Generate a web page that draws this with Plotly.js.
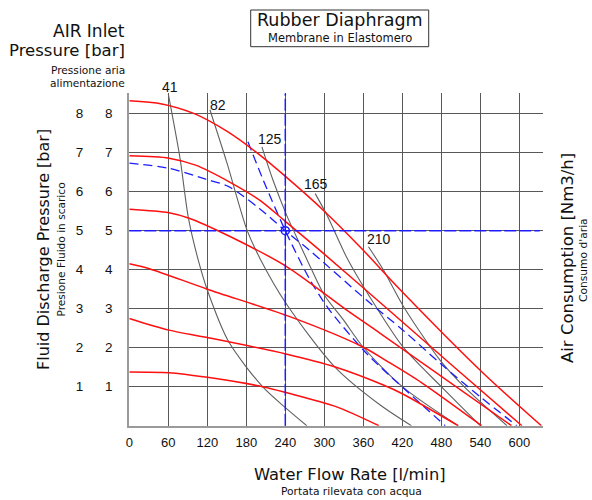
<!DOCTYPE html>
<html>
<head>
<meta charset="utf-8">
<script src="https://cdn.plot.ly/plotly-3.0.1.min.js"></script>
<style>html,body{margin:0;padding:0;background:#fff}#chart{width:592px;height:500px}</style>
</head>
<body>
<div id="chart"></div>
<script>
// ---- tick labels ----
const flowTicks = [0, 60, 120, 180, 240, 300, 360, 420, 480, 540, 600];
const fluidPressureTicks = [1, 2, 3, 4, 5, 6, 7, 8];
const airInletTicks = [1, 2, 3, 4, 5, 6, 7, 8];

// ---- performance curves (flow l/min, discharge pressure bar) ----
const perf8Flow = [0, 50, 100, 150, 200, 250, 300, 357, 416, 545, 634];
const perf8Pres = [8.33, 8.25, 8.0, 7.55, 6.95, 6.25, 5.5, 4.55, 3.5, 1.34, 0];
const perf7Flow = [0, 61, 102, 153, 200, 240, 300, 396, 500, 604];
const perf7Pres = [6.92, 6.86, 6.68, 6.26, 5.79, 5.24, 4.4, 3.01, 1.5, 0];
const perf55Flow = [0, 61, 92, 155, 242, 334, 386, 588];
const perf55Pres = [5.55, 5.46, 5.32, 4.85, 4.08, 2.97, 2.37, 0];
const perf4Flow = [0, 32, 120, 248, 358, 400, 450, 542];
const perf4Pres = [4.15, 4.02, 3.5, 2.79, 2.03, 1.62, 1.1, 0];
const perf3Flow = [0, 61, 120, 241, 318, 390, 420, 506];
const perf3Pres = [2.75, 2.45, 2.26, 1.84, 1.5, 1.05, 0.82, 0];
const perf1Flow = [0, 61, 120, 205, 241, 318, 384];
const perf1Pres = [1.38, 1.36, 1.24, 1.0, 0.85, 0.49, 0];

// ---- air consumption curves (Nm3/h) ----
const airLabels = ['41', '82', '125', '165', '210'];
const air41Flow = [60, 78, 91, 106, 120, 153, 205, 241, 273];
const air41Pres = [8.5, 6.86, 5.32, 4.25, 3.48, 2.15, 1.0, 0.45, 0];
const air82Flow = [124, 150, 181, 201, 241, 316, 386, 434];
const air82Pres = [8.1, 6.75, 5.02, 4.29, 3.14, 1.51, 0.53, 0];
const air125Flow = [204, 221, 242, 257, 275, 300, 330, 358, 420, 506];
const air125Pres = [7.15, 6.3, 5.4, 4.85, 4.2, 3.35, 2.7, 2.05, 1.0, 0];
const air165Flow = [286, 304, 334, 350, 381, 422, 480, 540];
const air165Pres = [5.95, 5.4, 4.33, 3.85, 3.01, 2.0, 1.0, 0];
const air210Flow = [368, 391, 422, 478, 515, 581];
const air210Pres = [4.59, 3.99, 3.05, 1.68, 1.0, 0];

// ---- example (blue dashed) ----
const exPerfFlow = [0, 61, 117.5, 153, 200, 240, 277, 365, 421, 481, 540, 596];
const exPerfPres = [6.73, 6.6, 6.32, 6.13, 5.57, 5.0, 4.5, 3.22, 2.45, 1.56, 0.74, 0];
const exAirFlow = [182.5, 206, 240, 278, 306, 360, 386, 486];
const exAirPres = [7.28, 6.3, 5.0, 3.74, 3.01, 1.94, 1.51, 0];
const opFlow = [240];
const opPressure = [5];

const RED = '#ff1010', GRAY = '#606060', BLUE = '#1c1cff';
const traces = [];
function line(x, y, color, width, dash) {
  traces.push({x: x, y: y, type: 'scatter', mode: 'lines', hoverinfo: 'skip',
    line: {color: color, width: width, dash: dash || 'solid', shape: 'spline', smoothing: 0.8}});
}
const airCurves = [[air41Flow, air41Pres], [air82Flow, air82Pres], [air125Flow, air125Pres],
                   [air165Flow, air165Pres], [air210Flow, air210Pres]];
airCurves.forEach(c => line(c[0], c[1], GRAY, 1.1));
line(exPerfFlow, exPerfPres, BLUE, 1.3, '9px,5px');
line(exAirFlow, exAirPres, BLUE, 1.3, '9px,5px');
[[perf8Flow, perf8Pres], [perf7Flow, perf7Pres], [perf55Flow, perf55Pres],
 [perf4Flow, perf4Pres], [perf3Flow, perf3Pres], [perf1Flow, perf1Pres]]
  .forEach(c => line(c[0], c[1], RED, 1.5));
traces.push({x: opFlow, y: opPressure, type: 'scatter', mode: 'markers', hoverinfo: 'skip',
  marker: {symbol: 'circle-open', size: 8, color: BLUE, line: {width: 1.5, color: BLUE}}});
// carrier for the air inlet pressure axis
traces.push({x: airInletTicks.map(() => 0), y: airInletTicks, yaxis: 'y2', type: 'scatter',
  mode: 'markers', marker: {opacity: 0}, hoverinfo: 'skip', showlegend: false});

const W = 592, H = 500;
const px = v => v / W, py = v => 1 - v / H;
const SANS = 'DejaVu Sans, Verdana, sans-serif';
const ARIAL = 'Liberation Sans, Arial, sans-serif';

const labelShift = [[2, 7], [8, 5], [8, 8], [1, 10], [10, 8]];
const annotations = airLabels.map((t, i) => ({
  x: airCurves[i][0][0], y: airCurves[i][1][0], xref: 'x', yref: 'y', text: t,
  xanchor: 'center', yanchor: 'middle',
  showarrow: false, xshift: labelShift[i][0], yshift: labelShift[i][1],
  font: {family: ARIAL, size: 14, color: '#111'}
}));
function txt(text, x, y, size, opts) {
  annotations.push(Object.assign({text: text, x: px(x), y: py(y), xref: 'paper', yref: 'paper',
    xanchor: 'center', yanchor: 'middle',
    showarrow: false, font: {family: SANS, size: size, color: '#111'}}, opts || {}));
}
txt('Rubber Diaphragm', 339.7, 19.5, 17.5);
txt('Membrane in Elastomero', 339.7, 38, 11.5);
txt('AIR Inlet', 127, 31, 17, {xanchor: 'right'});
txt('Pressure [bar]', 127, 51, 16.5, {xanchor: 'right'});
txt('Pressione aria', 127, 69.5, 10.6, {xanchor: 'right'});
txt('alimentazione', 127, 83, 10.6, {xanchor: 'right'});
txt('Fluid Discharge Pressure [bar]', 43, 250, 16, {textangle: -90});
txt('Presione Fluido in scarico', 60.5, 250, 10.6, {textangle: -90});
txt('Air Consumption [Nm3/h]', 567, 258, 16.5, {textangle: -90});
txt('Consumo d\'aria', 583, 260, 10.7, {textangle: -90});
txt('Water Flow Rate [l/min]', 350, 474, 16.3);
txt('Portata rilevata con acqua', 351, 491, 10.7);

const yRange = [0, 8.52];
const layout = {
  width: W, height: H, showlegend: false,
  paper_bgcolor: '#fff', plot_bgcolor: '#fff',
  margin: {l: 0, r: 0, t: 0, b: 0, autoexpand: false},
  xaxis: {domain: [129.3 / W, 542.7 / W], range: [0, 636], tickvals: flowTicks,
    ticktext: flowTicks.map(String), showgrid: true, gridcolor: '#585858', gridwidth: 1,
    zeroline: false, showline: true, linecolor: '#9a9a9a', linewidth: 2,
    ticks: 'outside', ticklen: 4, tickcolor: 'rgba(0,0,0,0)',
    tickfont: {family: ARIAL, size: 13, color: '#111'}, fixedrange: true},
  yaxis: {domain: [1 - 425.7 / H, 1 - 93.4 / H], range: yRange, tickvals: fluidPressureTicks,
    ticktext: fluidPressureTicks.map(String), showgrid: true, gridcolor: '#585858', gridwidth: 1,
    zeroline: false, showline: true, linecolor: '#9a9a9a', linewidth: 2,
    ticks: 'outside', ticklen: 12, tickcolor: 'rgba(0,0,0,0)',
    tickfont: {family: ARIAL, size: 13.5, color: '#111'}, fixedrange: true},
  yaxis2: {overlaying: 'y', anchor: 'free', position: 98 / W, side: 'left', range: yRange,
    tickvals: airInletTicks, ticktext: airInletTicks.map(String), showgrid: false,
    zeroline: false, showline: false, ticks: 'outside', ticklen: 12, tickcolor: 'rgba(0,0,0,0)',
    tickfont: {family: ARIAL, size: 13.5, color: '#111'}, fixedrange: true},
  shapes: [
    {type: 'rect', xref: 'paper', yref: 'paper', x0: px(250.7), x1: px(428.7), y0: py(46.7), y1: py(10),
     line: {color: '#333', width: 1}},
    {type: 'line', xref: 'x domain', yref: 'y', x0: 0, x1: 0.993, y0: opPressure[0], y1: opPressure[0],
     line: {color: BLUE, width: 1.5, dash: '12px,3px'}, layer: 'above'},
    {type: 'line', xref: 'x', yref: 'y domain', x0: opFlow[0], x1: opFlow[0], y0: 0, y1: 1,
     line: {color: BLUE, width: 1.5, dash: '12px,3px'}, layer: 'above'}
  ],
  annotations: annotations
};
Plotly.newPlot('chart', traces, layout, {staticPlot: true, displayModeBar: false});
</script>
</body>
</html>
